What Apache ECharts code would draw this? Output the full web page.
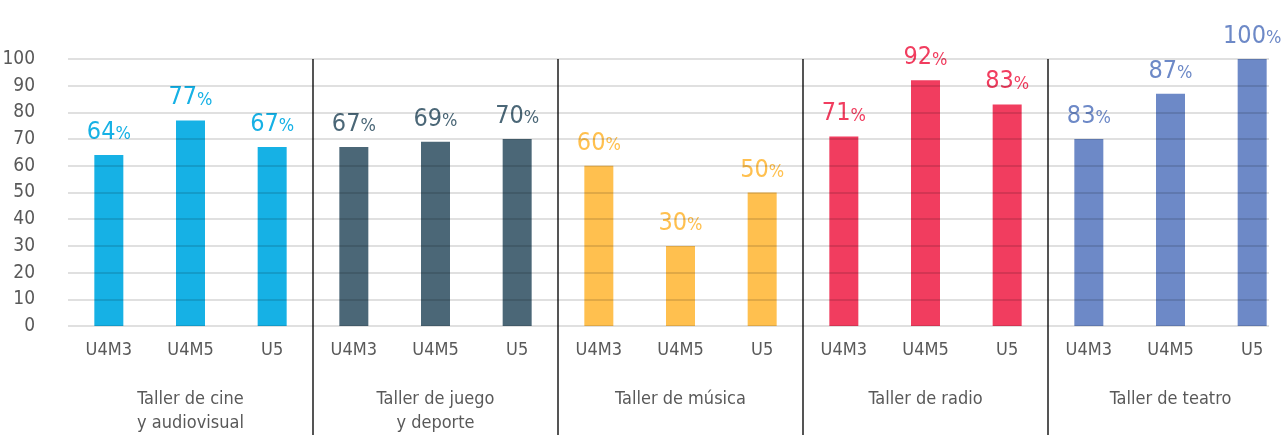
<!DOCTYPE html>
<html>
<head>
<meta charset="utf-8">
<script src="https://cdn.jsdelivr.net/npm/echarts@6/dist/echarts.min.js"></script>
<style>
  html, body { margin: 0; padding: 0; background: #fff; }
  #chart { width: 1287px; height: 435px; }
</style>
</head>
<body>
<div id="chart"></div>
<script>
var categories = ['U4M3', 'U4M5', 'U5', 'U4M3', 'U4M5', 'U5', 'U4M3', 'U4M5', 'U5',
                  'U4M3', 'U4M5', 'U5', 'U4M3', 'U4M5', 'U5'];
var groups = ['Taller de cine\ny audiovisual', 'Taller de juego\ny deporte', 'Taller de música',
              'Taller de radio', 'Taller de teatro'];
var barValues = [64, 77, 67, 67, 69, 70, 60, 30, 50, 71, 92, 83, 70, 87, 100];
// percentages written above the bars (teatro U4M3 reads 83% on a bar of 70)
var labelValues = [64, 77, 67, 67, 69, 70, 60, 30, 50, 71, 92, 83, 83, 87, 100];
var groupColors = ['#16b1e5', '#4b6777', '#ffc04f', '#f13d5f', '#6d89c7'];

var font = "'DejaVu Sans Condensed', 'DejaVu Sans', sans-serif";
var stretch = 'condensed';
var textColor = '#595959';

function chart() {
  var chartDom = document.getElementById('chart');
  var myChart = echarts.init(chartDom);

  var data = barValues.map(function (v, i) {
    var c = groupColors[Math.floor(i / 3)];
    return {
      value: v,
      itemStyle: { color: c },
      label: {
        formatter: '{n|' + labelValues[i] + '}{p|%}',
        rich: {
          n: { fontSize: 25, color: c, fontFamily: font, fontWeight: stretch },
          p: { fontSize: 18, color: c, fontFamily: font, fontWeight: stretch, padding: [4, 0, 0, 0] }
        }
      }
    };
  });

  var isDivider = function (index) {
    return index > 0 && index % 3 === 0;
  };

  option = {
    animation: false,
    grid: { left: 68, top: 59, width: 1225, height: 267, outerBoundsMode: 'none', containLabel: false },
    graphic: [
      {
        // plot area of the original stops just after the last bar
        type: 'rect',
        z: 10,
        shape: { x: 1269, y: 50, width: 30, height: 400 },
        style: { fill: '#fff' }
      }
    ],
    xAxis: [
      {
        type: 'category',
        data: categories,
        axisLine: { show: false },
        axisTick: {
          show: true,
          interval: isDivider,
          length: 115,
          lineStyle: { color: '#555', width: 2 }
        },
        splitLine: {
          show: true,
          interval: isDivider,
          lineStyle: { color: '#555', width: 2 }
        },
        axisLabel: { color: textColor, fontSize: 18, fontFamily: font, fontWeight: stretch, margin: 15, interval: 0 }
      },
      {
        type: 'category',
        position: 'bottom',
        offset: 53,
        data: groups,
        axisLine: { show: false },
        axisTick: { show: false },
        axisLabel: { color: textColor, fontSize: 18, fontFamily: font, fontWeight: stretch, lineHeight: 24, interval: 0 }
      }
    ],
    yAxis: {
      type: 'value',
      min: 0,
      max: 100,
      interval: 10,
      z: 3,
      axisLine: { show: false },
      axisTick: { show: false },
      axisLabel: { color: textColor, fontSize: 19, fontFamily: font, fontWeight: stretch, margin: 33 },
      splitLine: { lineStyle: { color: 'rgba(0,0,0,0.12)', width: 2 } }
    },
    series: [
      {
        type: 'bar',
        xAxisIndex: 0,
        barWidth: 29,
        data: data,
        label: { show: true, position: 'top', distance: 10 }
      }
    ]
  };

  option && myChart.setOption(option);
}

window.onload = function (e) {
  chart();
};
</script>
</body>
</html>
